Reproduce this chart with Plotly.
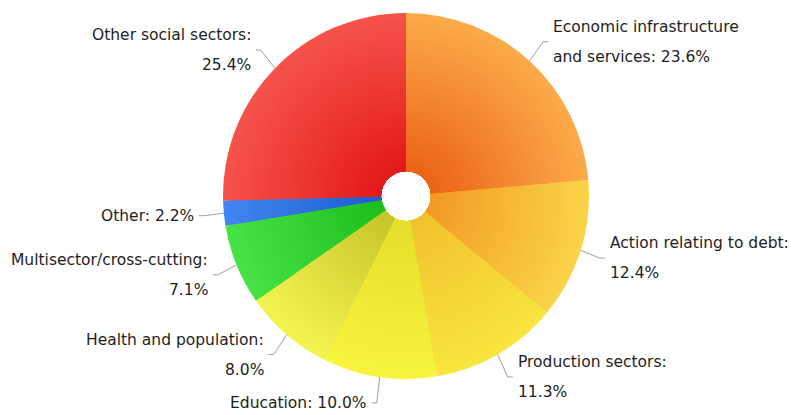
import math
import plotly.graph_objects as go

# ---------------- data ----------------
categories = [
    "Economic infrastructure and services",
    "Action relating to debt",
    "Production sectors",
    "Education",
    "Health and population",
    "Multisector/cross-cutting",
    "Other",
    "Other social sectors",
]
values = [23.6, 12.4, 11.3, 10.0, 8.0, 7.1, 2.2, 25.4]
# how each label is wrapped: "colon" -> name: / value ; "single" -> one line ; int -> split name after n words
label_wrap = [2, "colon", "colon", "single", "colon", "colon", "single", "colon"]

edge_colors = ["#FBAA4A", "#FAD448", "#F8E53E", "#F7F43C", "#F3F350", "#46E246", "#4284F2", "#F5524A"]
center_colors = ["#EC6418", "#F29A22", "#F2C22E", "#E6DE2C", "#C6C62C", "#1EBE1E", "#1E5ED0", "#E41A1A"]

# ---------------- layout constants ----------------
W, H = 793, 415
CX, CY, R, RH = 406, 196, 183, 25
N_RINGS = 36
DR, HL, GAP, KY = 20, 5, 3, 1.03
FONT = dict(family="DejaVu Sans", size=15.5, color="#1e1e1e")


def hex2rgb(h):
    h = h.lstrip("#")
    return tuple(int(h[i:i + 2], 16) for i in (0, 2, 4))


def mix(c0, c1, t):
    a, b = hex2rgb(c0), hex2rgb(c1)
    return "rgb({},{},{})".format(*[round(x + (y - x) * t) for x, y in zip(a, b)])


def px(x):
    return x / W


def py(y):
    return 1 - y / H


fig = go.Figure()
for k in range(N_RINGS):
    r = R - k * (R - RH) / N_RINGS
    t = 1 - k / (N_RINGS - 1)
    cols = [mix(c0, c1, t) for c0, c1 in zip(center_colors, edge_colors)]
    fig.add_trace(go.Pie(
        labels=categories, values=values, sort=False, direction="clockwise", rotation=0,
        hole=RH / r, marker=dict(colors=cols, line=dict(width=0)),
        textinfo="none", hoverinfo="label+percent", showlegend=False,
        domain=dict(x=[px(CX - r), px(CX + r)], y=[py(CY + r), py(CY - r)]),
    ))

total = sum(values)
cum = 0.0
annotations, shapes = [], []
for cat, v, wrap in zip(categories, values, label_wrap):
    th = 2 * math.pi * (cum + v / 2) / total
    cum += v
    s, c = math.sin(th), math.cos(th)
    x0, y0 = CX + R * s, CY - R * c
    x1, y1 = CX + (R + DR) * s, CY - (R + DR) * KY * c
    side = 1 if s > 0 else -1
    x2 = x1 + side * HL
    shapes.append(dict(type="path", xref="paper", yref="paper",
                       path=f"M {px(x0)} {py(y0)} L {px(x1)} {py(y1)} L {px(x2)} {py(y1)}",
                       line=dict(color="#a0a0a0", width=1)))
    pct = f"{v:.1f}%"
    if wrap == "single":
        lines = [f"{cat}: {pct}"]
    elif wrap == "colon":
        lines = [f"{cat}:", pct]
    else:
        words = cat.split()
        lines = [" ".join(words[:wrap]), " ".join(words[wrap:]) + ": " + pct]
    shifts = [0] if len(lines) == 1 else [15, -15]
    for txt, sh in zip(lines, shifts):
        annotations.append(dict(
            x=px(x2 + side * GAP), y=py(y1), xref="paper", yref="paper",
            text=txt, showarrow=False, xanchor="left" if side > 0 else "right",
            yanchor="middle", yshift=sh, font=FONT))

fig.update_layout(
    width=W, height=H, margin=dict(l=0, r=0, t=0, b=0),
    paper_bgcolor="white", plot_bgcolor="white",
    annotations=annotations, shapes=shapes,
)
fig.write_html("out.html", config={"displayModeBar": False},
               post_script="document.body.style.margin='0';")
